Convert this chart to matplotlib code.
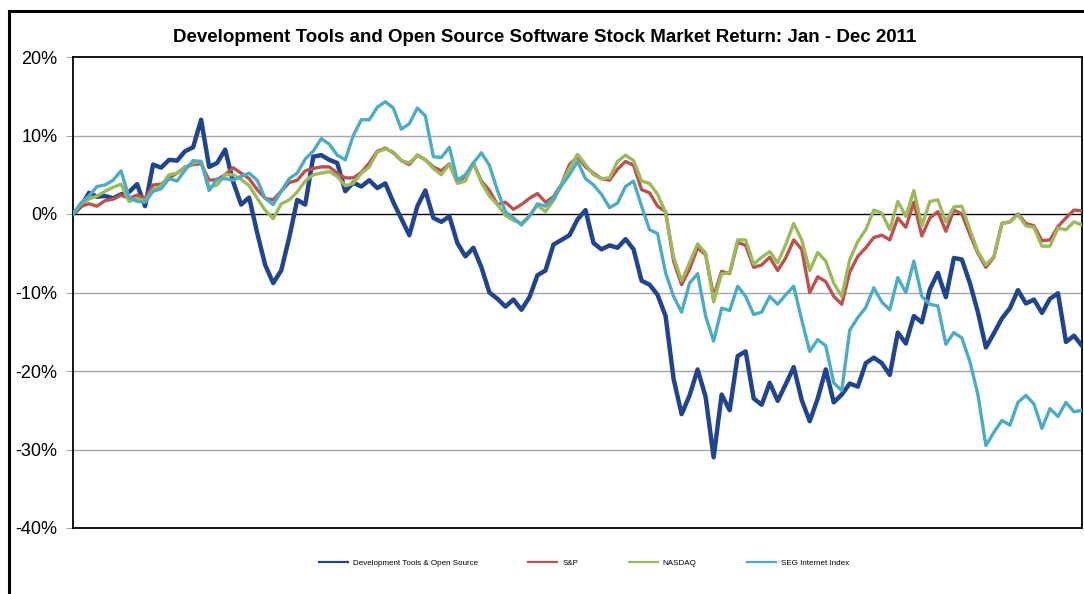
import numpy as np
import matplotlib
matplotlib.use("Agg")
import matplotlib.pyplot as plt
from matplotlib.patches import Rectangle

plt.rcParams['font.family'] = ['Liberation Sans', 'DejaVu Sans']

# cumulative return (%), sampled every other trading day, Jan - Dec 2011
dev_tools = [
    0.0, 1.0, 2.7, 2.2, 2.3, 2.0, 2.5, 2.8, 3.8, 1.0,
    6.3, 5.9, 6.9, 6.8, 8.0, 8.5, 12.0, 6.0, 6.5, 8.2,
    4.1, 1.2, 2.1, -2.4, -6.5, -8.8, -7.2, -3.0, 1.8, 1.2,
    7.3, 7.5, 6.9, 6.5, 2.9, 4.0, 3.5, 4.3, 3.3, 3.9,
    1.5, -0.6, -2.7, 1.0, 3.0, -0.5, -1.0, -0.3, -3.7, -5.4,
    -4.3, -6.8, -10.0, -10.8, -11.8, -10.9, -12.2, -10.6, -7.8, -7.2,
    -3.9, -3.3, -2.7, -0.7, 0.5, -3.7, -4.5, -4.0, -4.3, -3.2,
    -4.5, -8.5, -9.0, -10.3, -13.0, -21.0, -25.5, -23.1, -19.8, -23.3,
    -31.0, -23.0, -25.0, -18.1, -17.5, -23.5, -24.3, -21.5, -23.8, -21.7,
    -19.5, -23.7, -26.4, -23.5, -19.8, -24.0, -23.0, -21.6, -22.0, -19.0,
    -18.3, -19.0, -20.5, -15.1, -16.5, -13.0, -13.8, -9.6, -7.5, -10.6,
    -5.6, -5.8, -8.8, -12.5, -17.0, -15.2, -13.3, -12.0, -9.7, -11.4,
    -10.9, -12.6, -10.8, -10.1, -16.3, -15.5, -16.8,
]
sp500 = [
    0.0, 1.0, 1.3, 1.0, 1.7, 1.9, 2.4, 2.0, 2.4, 2.0,
    3.7, 3.8, 4.6, 5.2, 6.0, 6.3, 6.4, 4.3, 4.4, 5.0,
    5.9, 5.2, 4.5, 3.1, 2.0, 1.8, 2.9, 4.0, 4.3, 5.5,
    5.8, 6.0, 6.0, 5.2, 4.6, 4.6, 5.3, 6.5, 8.0, 8.4,
    7.8, 6.8, 6.3, 7.5, 6.9, 6.0, 5.5, 6.4, 4.1, 4.8,
    6.5, 4.2, 3.0, 1.2, 1.5, 0.6, 1.2, 2.0, 2.6, 1.5,
    2.2, 3.8, 6.3, 7.3, 6.0, 5.2, 4.5, 4.3, 5.7, 6.7,
    6.2, 3.1, 2.7, 1.0, 0.3, -6.0, -9.0, -7.0, -4.3, -5.2,
    -10.5, -7.3, -7.6, -3.6, -4.0, -6.8, -6.5, -5.5, -7.2, -5.6,
    -3.3, -4.5, -10.0, -8.0, -8.6, -10.5, -11.5, -7.4, -5.4, -4.3,
    -3.0, -2.7, -3.3, -0.5, -1.7, 1.5, -2.8, -0.5, 0.3, -2.2,
    0.5, 0.0, -2.6, -5.0, -6.8, -5.5, -1.2, -1.0, 0.0, -1.2,
    -1.5, -3.4, -3.3, -1.6, -0.5, 0.5, 0.4,
]
nasdaq = [
    0.0, 1.3, 1.9, 2.3, 2.9, 3.4, 3.8, 1.6, 2.0, 1.7,
    3.1, 3.6, 5.0, 5.2, 5.9, 6.5, 6.7, 3.4, 3.7, 5.0,
    5.0, 4.4, 3.6, 2.0, 0.5, -0.6, 1.3, 1.8, 2.8, 4.2,
    5.0, 5.2, 5.4, 4.8, 3.6, 3.9, 5.2, 6.0, 7.9, 8.3,
    7.9, 6.8, 6.5, 7.5, 6.9, 5.8, 5.0, 6.4, 3.9, 4.2,
    6.5, 4.0, 2.3, 1.2, -0.2, -0.8, -1.2, -0.2, 1.1, 0.3,
    1.7, 3.8, 5.8, 7.6, 6.3, 5.0, 4.5, 4.6, 6.7, 7.5,
    6.8, 4.2, 3.9, 2.5, 0.2, -5.5, -8.5, -6.2, -3.8, -5.0,
    -11.2, -7.6, -7.5, -3.3, -3.3, -6.4, -5.5, -4.8, -6.2, -3.9,
    -1.2, -3.3, -7.2, -4.9, -6.0, -8.8, -10.5, -5.8, -3.5, -2.0,
    0.5, 0.1, -2.0, 1.6, -0.3, 3.0, -1.5, 1.6, 1.8, -1.0,
    0.9, 1.0, -2.0, -4.8, -6.5, -5.4, -1.2, -1.0, -0.1, -1.5,
    -1.7, -4.1, -4.1, -1.8, -2.0, -1.0, -1.4,
]
seg_internet = [
    0.0, 1.4, 2.3, 3.5, 3.7, 4.3, 5.5, 2.1, 1.6, 1.5,
    2.9, 3.2, 4.5, 4.2, 5.6, 6.8, 6.7, 3.0, 4.5, 4.5,
    4.3, 4.8, 5.2, 4.3, 2.0, 1.2, 2.9, 4.5, 5.2, 7.0,
    8.0, 9.6, 8.9, 7.5, 6.9, 10.0, 12.0, 12.0, 13.6, 14.3,
    13.5, 10.8, 11.5, 13.5, 12.5, 7.3, 7.2, 8.5, 4.3, 5.0,
    6.5, 7.8, 6.2, 3.0, 0.3, -0.5, -1.4, -0.3, 1.3, 1.0,
    2.0, 3.6, 5.0, 6.7, 4.5, 3.7, 2.5, 0.8, 1.4, 3.5,
    4.2, 1.0, -2.0, -2.5, -7.5, -10.5, -12.5, -8.8, -7.6, -13.0,
    -16.2, -12.0, -12.3, -9.2, -10.5, -12.8, -12.5, -10.5, -11.5, -10.3,
    -9.2, -13.5, -17.5, -16.0, -16.8, -21.5, -22.5, -14.8, -13.2, -11.9,
    -9.4, -11.2, -12.2, -8.1, -10.0, -6.0, -10.5, -11.5, -11.7, -16.6,
    -15.1, -15.8, -18.8, -23.0, -29.5, -27.8, -26.3, -26.9, -24.0, -23.1,
    -24.2, -27.3, -24.8, -25.8, -24.0, -25.2, -25.0,
]

series_names = ["Development Tools & Open Source", "S&P", "NASDAQ", "SEG Internet Index"]
series_values = [dev_tools, sp500, nasdaq, seg_internet]
colors = ["#1F4591", "#C0504D", "#9BBB59", "#4BACC6"]
widths = [3.2, 2.4, 2.4, 2.4]

y_ticks = [20, 10, 0, -10, -20, -30, -40]
title = "Development Tools and Open Source Software Stock Market Return: Jan - Dec 2011"

fig = plt.figure(figsize=(10.84, 5.94), dpi=100)
fig.patches.append(Rectangle((9 / 1084, -0.1), 1.2, (594 - 11) / 594 + 0.1,
                             transform=fig.transFigure, fill=False,
                             edgecolor="black", linewidth=2.2))

ax = fig.add_axes([73 / 1084, 1 - 528 / 594, (1082 - 73) / 1084, (528 - 57) / 594])

x = np.arange(len(dev_tools))
for name, vals, c, lw in zip(series_names, series_values, colors, widths):
    ax.plot(x, vals, color=c, linewidth=lw, label=name, solid_joinstyle="round", zorder=3)

ax.set_xlim(0, len(dev_tools) - 1)
ax.set_ylim(-40, 20)
ax.set_yticks(y_ticks)
ax.set_yticklabels([f"{t}%" for t in y_ticks], fontsize=13)
ax.set_xticks([])
for t in y_ticks:
    if t == 0:
        ax.axhline(0, color="black", linewidth=1.0, zorder=2)
    elif t not in (20, -40):
        ax.axhline(t, color="#A6A6A6", linewidth=1.0, zorder=1)
ax.tick_params(axis="y", length=5, color="#A6A6A6", pad=6)
for s in ax.spines.values():
    s.set_linewidth(1.3)
    s.set_color("black")

fig.text(545 / 1084, 1 - 38 / 594, title, ha="center", va="center",
         fontsize=13.5, fontweight="bold")

leg = fig.legend(loc="center", bbox_to_anchor=(584 / 1084, 1 - 563 / 594), ncol=4,
                 frameon=False, fontsize=5.8, handlelength=3.6, handletextpad=0.6,
                 columnspacing=6.3)
for h in leg.get_lines():
    h.set_linewidth(1.6)

fig.savefig("out.png", dpi=100)
